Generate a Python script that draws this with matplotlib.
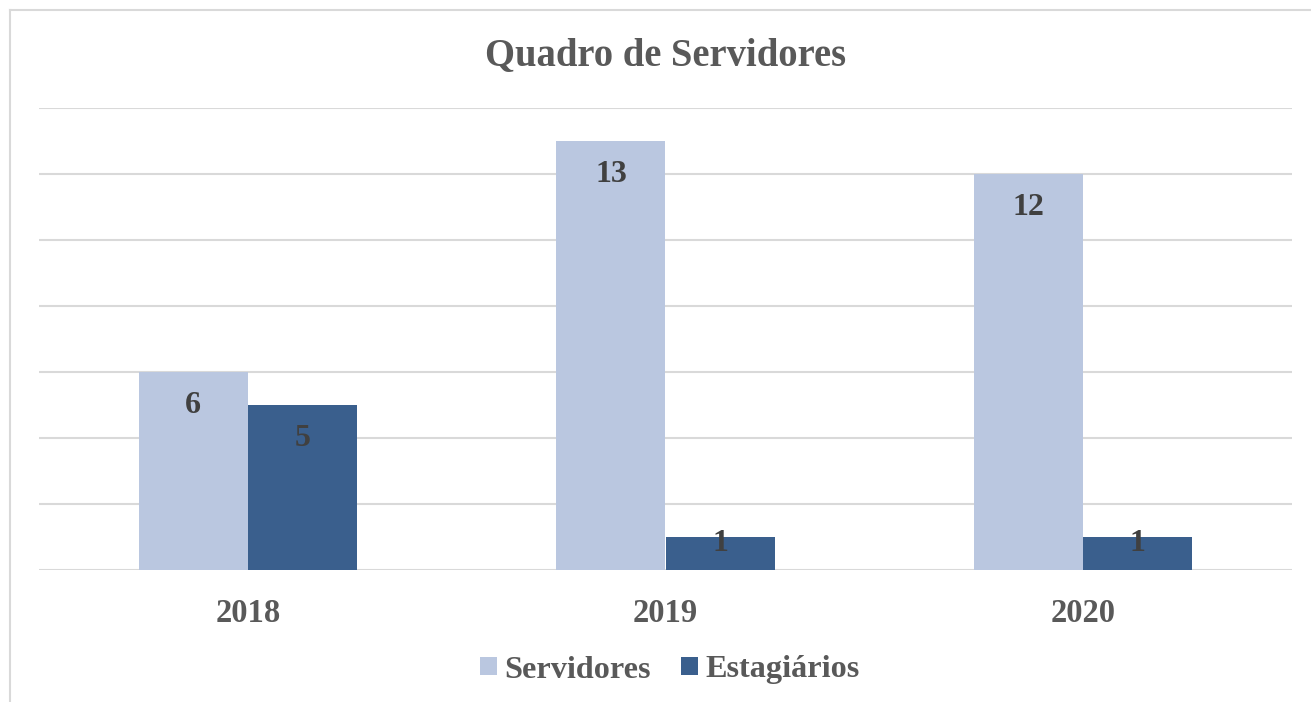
import numpy as np
import matplotlib.pyplot as plt

# data
anos = ['2018', '2019', '2020']
servidores = [6, 13, 12]
estagiarios = [5, 1, 1]

plt.rcParams['font.family'] = ['Liberation Serif', 'DejaVu Serif']
plt.rcParams['font.weight'] = 'bold'

fig = plt.figure(figsize=(13.11, 7.02), dpi=100)
ax = fig.add_axes([39/1311, 132/702, 1253/1311, 462/702])

x = np.arange(len(anos))
w = 0.261
c_light = '#BAC7E0'
c_dark = '#3A5F8D'

b1 = ax.bar(x - w/2, servidores, w, color=c_light, label='Servidores', zorder=3)
b2 = ax.bar(x + w/2, estagiarios, w, color=c_dark, label='Estagiários', zorder=3)

# data labels, inside end
for bars in (b1, b2):
    for r in bars:
        h = r.get_height()
        off = -24 if h >= 2 else -4.5
        ax.annotate(str(int(h)), (r.get_x() + r.get_width()/2, h),
                    xytext=(0, off), textcoords='offset points',
                    ha='center', va='center', fontsize=23,
                    fontweight='bold', color='#404040', zorder=4)

ax.set_xlim(-0.5, 2.5)
ax.set_ylim(0, 14)
ax.set_yticks(np.arange(0, 15, 2))
ax.set_yticklabels([])
ax.grid(axis='y', color='#D9D9D9', linewidth=1.5, zorder=0)
ax.tick_params(axis='y', length=0)
ax.tick_params(axis='x', length=0, pad=20, labelsize=23.5, labelcolor='#595959')
ax.set_xticks(x)
ax.set_xticklabels(anos, fontweight='bold')
for s in ax.spines.values():
    s.set_visible(False)

fig.text(666/1311, 1 - 56/702, 'Quadro de Servidores', ha='center', va='center',
         fontsize=27.8, fontweight='bold', color='#595959')

leg = fig.legend(loc='center', bbox_to_anchor=(670/1311, 1 - 670/702), ncol=2,
                 frameon=False, fontsize=23.2, handlelength=0.52, handleheight=0.52,
                 handletextpad=0.22, columnspacing=0.95)
for t in leg.get_texts():
    t.set_color('#595959')
    t.set_fontweight('bold')

# chart border (top and left visible)
fig.add_artist(plt.Line2D([9.5/1311, 1], [1 - 10/702, 1 - 10/702], color='#D9D9D9', linewidth=1.5))
fig.add_artist(plt.Line2D([9.5/1311, 9.5/1311], [0, 1 - 10/702], color='#D9D9D9', linewidth=1.5))

fig.savefig('out.png', dpi=100)
